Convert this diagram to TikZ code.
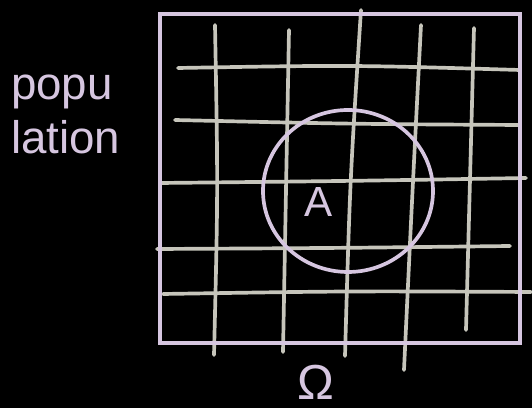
\documentclass[tikz,border=0pt]{standalone}
\usepackage{fontspec}
\setmainfont{Liberation Sans}
\usepackage{xcolor}
\usetikzlibrary{positioning}
\definecolor{lav}{HTML}{D6C6E0}
\definecolor{gridgrey}{HTML}{C6C5BB}

\begin{document}
\begin{tikzpicture}[x=0.02cm, y=-0.02cm, line cap=round, frame/.style={draw=lav,line width=2.1pt}, gline/.style={draw=gridgrey,line width=2.1pt}, lbl/.style={text=lav,inner sep=0pt}]
\fill[black] (0,0) rectangle (532,408);
\useasboundingbox (0,0) rectangle (532,408);
% grid
\draw[gline] (215,25) .. controls (218,190) .. (214,355);
\draw[gline] (289,30) .. controls (286,190) .. (283,352);
\draw[gline] (361,10) .. controls (350,180) .. (345,356);
\draw[gline] (421,25) .. controls (412,200) .. (404,370);
\draw[gline] (474,28) .. controls (470,180) .. (466,330);
\draw[gline] (178,68) .. controls (350,65) .. (520,70);
\draw[gline] (175,120) .. controls (350,124) .. (520,125);
\draw[gline] (160,183) .. controls (350,181) .. (526,178);
\draw[gline] (157,249) .. controls (340,248) .. (510,246);
\draw[gline] (163,294) .. controls (350,291) .. (531,292);
% square
\draw[frame] (160,14) rectangle (520,343);
% set A
\draw[frame] (348,191) ellipse [x radius=85, y radius=81];
\node[lbl, font=\fontsize{24}{24}\selectfont] (a) at (319,202) {A};
\node[lbl, font=\fontsize{28}{28}\selectfont] (om) at (316,382) {Ω};
\node[lbl, font=\fontsize{26}{26}\selectfont] (p1) at (62,92) {popu};
\node[lbl, font=\fontsize{26}{26}\selectfont, below=6pt of p1.south west, anchor=north west] (p2) {lation};
\end{tikzpicture}
\end{document}
